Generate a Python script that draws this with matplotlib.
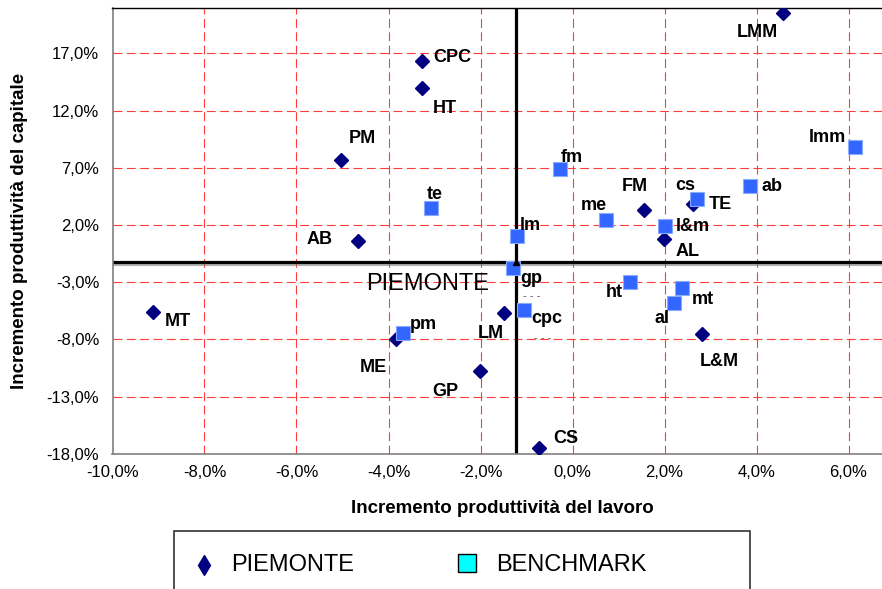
import numpy as np
import matplotlib
matplotlib.use('Agg')
import matplotlib.pyplot as plt
import matplotlib.patheffects as pe
from matplotlib.patches import Rectangle
from matplotlib.lines import Line2D
from matplotlib.ticker import FuncFormatter

plt.rcParams['font.family'] = ['Liberation Sans', 'DejaVu Sans']

# Data (% change): x = labour productivity, y = capital productivity
piem_labels = ['LMM', 'CPC', 'HT', 'PM', 'AB', 'MT', 'ME', 'LM', 'GP', 'CS',
               'FM', 'TE', 'AL', 'L&M']
piem_x = [4.58, -3.27, -3.27, -5.03, -4.67, -9.11, -3.84, -1.50, -2.01, -0.73,
          1.56, 2.61, 1.98, 2.82]
piem_y = [20.5, 16.3, 14.0, 7.7, 0.6, -5.6, -8.0, -5.7, -10.8, -17.5,
          3.3, 3.8, 0.8, -7.5]

bench_labels = ['lmm', 'ab', 'cs', 'fm', 'te', 'me', 'l&m', 'lm', 'gp', 'cpc',
                'pm', 'ht', 'mt', 'al']
bench_x = [6.14, 3.86, 2.70, -0.28, -3.08, 0.72, 2.01, -1.21, -1.29, -1.05,
           -3.69, 1.24, 2.37, 2.21]
bench_y = [8.8, 5.4, 4.3, 6.9, 3.5, 2.4, 1.9, 1.0, -1.8, -5.4,
           -7.4, -3.0, -3.5, -4.8]

# Piemonte average (crossing lines)
avg_x = -1.23
avg_y = -1.26

x_ticks = [-10, -8, -6, -4, -2, 0, 2, 4, 6]
y_ticks = [-18, -13, -8, -3, 2, 7, 12, 17]

# label offsets in pixels (dx, dy)
piem_off = [(-26, -19), (30, 4), (23, -21), (21, 21), (-38, 1), (24, -10),
            (-22, -28), (-13, -20), (-35, -20), (27, 10), (-9, 24), (28, 0),
            (24, -13), (17, -28)]
bench_off = [(-28, 10), (22, 0), (-11, 13), (12, 11), (4, 13), (-12, 15),
             (28, 0), (13, 11), (18, -10), (23, -9), (21, 8), (-15, -10),
             (21, -12), (-12, -16)]

fig = plt.figure(figsize=(8.82, 5.89), dpi=100)
ax = fig.add_axes([112.5 / 882, 1 - 453.8 / 589, 782 / 882, 446.2 / 589])

ax.set_xlim(-10, 7)
ax.set_ylim(-18, 21)
ax.set_xticks(x_ticks)
ax.set_yticks(y_ticks)
fmt = FuncFormatter(lambda v, p: f"{v:.1f}%".replace('.', ','))
ax.xaxis.set_major_formatter(fmt)
ax.yaxis.set_major_formatter(fmt)
ax.tick_params(axis='both', length=0, labelsize=12)
ax.tick_params(axis='x', pad=8)
ax.tick_params(axis='y', pad=9.5)

ax.grid(True, color='#ff3b3b', linestyle=(0, (8, 4)), linewidth=0.8)
ax.set_axisbelow(True)
for s in ['left', 'bottom']:
    ax.spines[s].set_color('#808080')
    ax.spines[s].set_linewidth(1.2)
ax.spines['top'].set_color('black')
ax.spines['top'].set_linewidth(1)
ax.spines['right'].set_visible(False)

# crossing average lines
ax.axhline(avg_y, color='black', lw=2.3, zorder=2,
           path_effects=[pe.SimpleLineShadow(offset=(0, -1.5), shadow_color='gray', alpha=0.6),
                         pe.Normal()])
ax.axvline(avg_x, color='black', lw=2.3, zorder=2)

ax.plot(piem_x, piem_y, linestyle='none', marker='D', ms=7.3, color='#000080', zorder=3)
ax.plot(bench_x, bench_y, linestyle='none', marker='s', ms=10.3,
        markerfacecolor='#3366ff', markeredgecolor='#88aaff', markeredgewidth=0.8, zorder=4)
ax.plot([avg_x], [avg_y], linestyle='none', marker='^', ms=5, color='black', zorder=5)

for lab, x, y, off in zip(piem_labels, piem_x, piem_y, piem_off):
    ax.annotate(lab, (x, y), xytext=off, textcoords='offset pixels',
                ha='center', va='center', fontsize=13, fontweight='bold', zorder=6)
for lab, x, y, off in zip(bench_labels, bench_x, bench_y, bench_off):
    ax.annotate(lab, (x, y), xytext=off, textcoords='offset pixels',
                ha='center', va='center', fontsize=13, fontweight='bold', zorder=6)

# small dashes under gp and cpc labels
for lab in ['gp', 'cpc']:
    i = bench_labels.index(lab)
    ax.annotate('- - -', (bench_x[i], bench_y[i]), xytext=(19, -28), textcoords='offset pixels',
                ha='center', va='center', fontsize=8, color='#555555', zorder=6)

ax.annotate('PIEMONTE', (avg_x, avg_y), xytext=(-88, -22), textcoords='offset pixels',
            ha='center', va='center', fontsize=17, zorder=6)

ax.set_xlabel('Incremento produttività del lavoro', fontsize=13.5, fontweight='bold')
ax.set_ylabel('Incremento produttività del capitale', fontsize=13.5, fontweight='bold')
ax.xaxis.set_label_coords((502 - 112.5) / 782, (453.8 - 500) / 446.2)
ax.yaxis.set_label_coords((28 - 112.5) / 782, 0.5)

# legend box (partly cut off at the bottom, as in the original)
W, H = 882, 589
fig.add_artist(Rectangle((174 / W, 1 - 620 / H), (749.5 - 174) / W, (620 - 531) / H,
                         transform=fig.transFigure, facecolor='white', edgecolor='#333333',
                         lw=1.2))
fig.add_artist(Line2D([203.5 / W], [1 - 565 / H], transform=fig.transFigure, marker='d',
                      ms=10, color='#000080', linestyle='none'))
fig.text(231 / W, 1 - 565 / H, 'PIEMONTE', fontsize=17, va='center', ha='left')
fig.add_artist(Line2D([466.5 / W], [1 - 563 / H], transform=fig.transFigure, marker='s',
                      ms=12.5, markerfacecolor='#00ffff', markeredgecolor='black',
                      markeredgewidth=1, linestyle='none'))
fig.text(496 / W, 1 - 565 / H, 'BENCHMARK', fontsize=17, va='center', ha='left')

fig.savefig('out.png', dpi=100)
